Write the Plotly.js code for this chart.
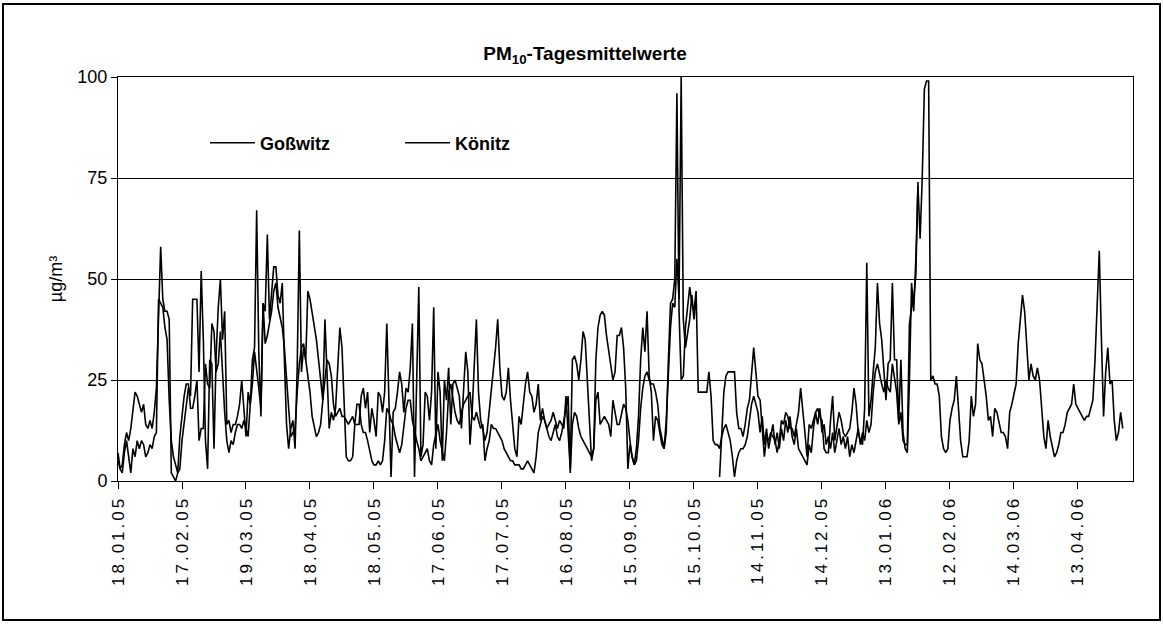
<!DOCTYPE html>
<html><head><meta charset="utf-8">
<script src="https://cdn.plot.ly/plotly-3.0.1.min.js"></script>
<style>
html,body{margin:0;padding:0;background:#fff;}
#wrap{position:relative;width:1163px;height:624px;overflow:hidden;}
#chart{position:absolute;left:0;top:0;width:1163px;height:624px;}
#frame{position:absolute;left:2px;top:3px;width:1155px;height:614px;border:2px solid #000;pointer-events:none;}
.xtick text{letter-spacing:3px;}
</style></head><body>
<div id="wrap"><div id="chart"></div><div id="frame"></div></div>
<script>
// first day of both series (daily values)
const startDate = [2005, 0, 18];
const tickLabels = ['18.01.05','17.02.05','19.03.05','18.04.05','18.05.05','17.06.05','17.07.05','16.08.05',
  '15.09.05','15.10.05','14.11.05','14.12.05','13.01.06','12.02.06','14.03.06','13.04.06'];
const tickStepDays = 30;
const yTicks = [0, 25, 50, 75, 100];

// PM10 daily means, µg/m³
const gosswitz = [
 7,3,4,9,12,10,13,17,22,21,19,17,19,14,13,15,13,17,23,43,58,
 45,42,42,40,2,1,0,2,3,10,
 14,19,23,21,45,45,45,27,52,35,
 10,3,30,29,8,31,43,50,35,42,
 14,15,12,14,14,16,19,25,18,11,
 22,19,30,33,67,32,16,44,42,61,
 40,47,53,53,46,44,49,30,14,8,
 13,15,8,28,62,27,33,30,47,45,
 42,39,35,30,24,20,40,26,13,17,
 15,18,30,38,33,18,6,5,5,6,
 14,14,14,21,23,18,22,12,18,15,
 11,22,21,17,22,39,18,1,17,18,
 22,27,24,17,23,22,28,39,1,25,
 48,6,9,22,21,15,22,43,8,27,
 22,5,25,20,28,14,24,25,23,21,
 13,22,32,27,9,17,30,40,22,15,
 13,10,12,17,22,28,33,40,28,21,
 20,22,28,20,13,8,6,16,14,20,
 24,27,22,21,17,19,24,15,18,15,
 13,14,15,17,15,13,15,14,13,21,
 12,3,30,31,29,25,30,37,35,25,
 12,5,8,30,38,41,42,41,36,32,
 28,25,27,36,36,38,33,23,3,9,
 6,4,8,16,30,38,32,42,26,22,
 10,16,15,12,9,8,12,30,44,45,
 50,96,42,25,26,38,43,48,44,42,
 47,22,22,22,22,22,27,21,10,9,
 9,8,11,13,14,12,10,6,1,5,
 7,8,8,9,11,15,19,21,19,17,
 12,16,9,13,8,11,14,9,12,8,
 13,10,15,12,16,11,9,13,8,7,
 6,5,4,9,7,13,17,14,18,12,
 14,9,11,8,12,7,10,13,9,11,
 8,11,6,9,7,10,13,9,12,10,
 15,12,14,22,27,29,26,24,22,25,
 23,22,29,26,22,14,17,10,9,9,
 39,43,45,51,74
];
const koenitz = [
 5,3,2,7,10,6,2,8,6,10,8,10,9,6,7,9,8,11,12,45,44,
 43,38,35,20,10,6,4,2,11,17,
 21,24,24,18,18,21,25,10,13,13,
 29,24,23,39,37,27,29,37,26,17,
 10,7,10,9,12,14,14,13,15,13,
 11,19,24,32,28,23,18,44,34,36,
 39,42,47,49,43,40,38,33,24,18,
 11,12,13,22,29,33,34,30,26,22,
 16,13,11,12,14,20,25,30,29,26,
 19,16,17,18,16,16,15,14,15,16,
 14,19,19,14,12,12,10,7,5,4,
 4,5,4,5,10,18,17,15,14,11,
 9,7,9,13,18,20,20,15,12,10,
 8,5,6,7,8,5,4,9,12,14,
 10,7,5,12,22,24,20,17,15,14,
 17,19,20,21,22,16,15,17,15,13,
 14,5,8,10,14,13,13,12,11,10,
 8,7,6,5,5,4,4,4,3,3,
 4,5,4,3,2,6,12,14,16,15,
 13,11,10,12,14,11,10,12,15,18,
 21,2,14,17,16,13,11,10,9,8,
 7,6,8,20,22,14,15,16,15,14,
 11,20,17,14,14,17,19,18,15,10,
 6,4,5,10,18,23,26,27,25,24,
 24,22,19,13,10,8,15,25,38,44,
 43,55,45,100,40,33,36,40,46,40,
 45,null,null,null,null,null,null,null,null,null,
 null,1,12,22,26,27,27,27,27,17,
 13,13,11,14,18,20,27,33,27,21,
 20,13,6,11,10,12,11,10,7,10,
 15,14,17,16,13,13,11,14,17,23,
 18,12,6,14,13,15,17,18,16,15,
 8,7,7,15,21,10,14,17,15,12,
 11,12,13,17,23,19,12,10,9,18,
 54,16,20,27,33,49,39,35,28,20,
 29,30,49,30,30,15,30,12,8,7,
 25,49,42,55,73,60,75,97,99,99,
 25,26,24,24,21,11,8,7,8,15,
 18,20,26,18,10,6,6,6,10,21,
 16,19,34,30,29,25,21,15,16,11,
 18,17,14,12,12,11,8,17,19,22,
 24,34,40,46,42,33,25,29,26,25,
 28,25,19,11,8,15,11,8,6,7,
 9,12,12,14,17,18,19,24,19,18,
 17,16,15,16,16,18,20,30,45,57,
 35,16,27,33,24,25,15,10,12,17,
 13
];

const DAY = 86400000;
const t0 = Date.UTC(startDate[0], startDate[1], startDate[2]);
function dayStr(i){ return new Date(t0 + i*DAY).toISOString().slice(0,10); }
function dayTime(f){ return new Date(t0 + f*DAY).toISOString().replace('T',' ').slice(0,19); }
const xG = gosswitz.map((_,i)=>dayStr(i));
const xK = koenitz.map((_,i)=>dayStr(i));
const tickVals = tickLabels.map((_,k)=>dayStr(k*tickStepDays));

const FONT = '"Liberation Sans", Arial, Helvetica, sans-serif';
const traces = [
 {x:xG, y:gosswitz, type:'scatter', mode:'lines', name:'Goßwitz', legend:'legend',
  line:{color:'#000', width:1.6}, connectgaps:false},
 {x:xK, y:koenitz, type:'scatter', mode:'lines', name:'Könitz', legend:'legend2',
  line:{color:'#000', width:1.6}, connectgaps:false}
];
const legendFont = {family:FONT, size:18, color:'#000', weight:'bold'};
const layout = {
 width:1163, height:624,
 margin:{l:118, r:30, t:77, b:143, pad:0},
 paper_bgcolor:'#fff', plot_bgcolor:'#fff',
 font:{family:FONT, color:'#000'},
 title:{text:'PM<sub>10</sub>-Tagesmittelwerte', font:{family:FONT, size:19, color:'#000', weight:'bold'},
   x:0.503, xref:'container', xanchor:'center', y:1-53/624, yref:'container', yanchor:'middle'},
 xaxis:{type:'date', range:[dayTime(0), dayTime(475.8)], tickvals:tickVals, ticktext:tickLabels,
   tickangle:-90, ticks:'outside', ticklen:7, tickwidth:1, tickcolor:'#000',
   showline:true, linecolor:'#000', linewidth:1, mirror:true, showgrid:false, zeroline:false,
   tickfont:{family:FONT, size:17, color:'#000'}, automargin:false},
 yaxis:{range:[0,100], tickvals:yTicks, ticktext:yTicks.map(String), ticks:'outside', ticklen:6, tickcolor:'#000',
   showline:true, linecolor:'#000', linewidth:1, mirror:true, showgrid:true, gridcolor:'#000', gridwidth:1,
   zeroline:false, tickfont:{family:FONT, size:18, color:'#000'}, automargin:false,
   title:{text:'µg/m³', font:{family:FONT, size:18, color:'#000'}, standoff:10}},
 showlegend:true,
 legend:{x:(205-118)/1015, y:(481-143)/404, xanchor:'left', yanchor:'middle', orientation:'h',
   bgcolor:'rgba(0,0,0,0)', borderwidth:0, font:legendFont, itemwidth:45},
 legend2:{x:(400-118)/1015, y:(481-143)/404, xanchor:'left', yanchor:'middle', orientation:'h',
   bgcolor:'rgba(0,0,0,0)', borderwidth:0, font:legendFont, itemwidth:45}
};
Plotly.newPlot('chart', traces, layout, {staticPlot:true, displayModeBar:false});
</script>
</body></html>
